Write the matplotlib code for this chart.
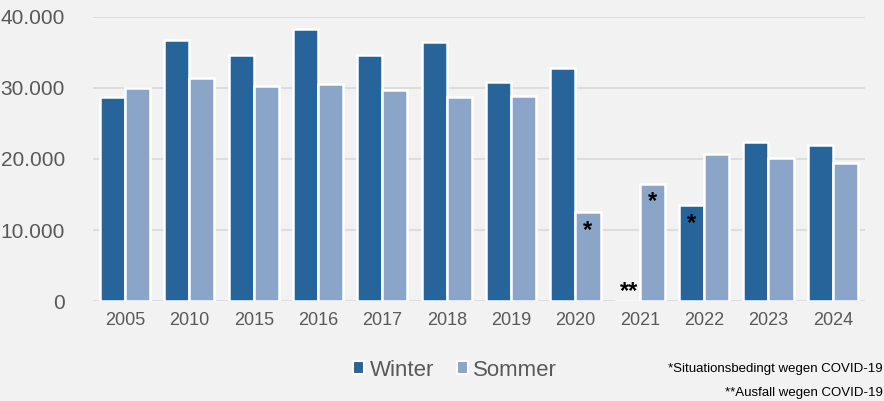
import matplotlib

matplotlib.use("Agg")
import matplotlib.pyplot as plt
import numpy as np
from matplotlib.patches import Patch
from matplotlib.ticker import FuncFormatter

years = ["2005", "2010", "2015", "2016", "2017", "2018", "2019", "2020", "2021", "2022", "2023", "2024"]
winter = [28700, 36800, 34600, 38300, 34600, 36500, 30800, 32800, 0, 13500, 22400, 22000]
sommer = [30000, 31400, 30300, 30600, 29700, 28700, 28900, 12500, 16500, 20700, 20100, 19400]

# (year index, series, label)
marks = [(7, "sommer", "*"), (8, "sommer", "*"), (8, "winter", "**"), (9, "winter", "*")]

notes = ["*Situationsbedingt wegen COVID-19", "**Ausfall wegen COVID-19"]

WINTER_C = "#266499"
SOMMER_C = "#8aa5c8"
BG = "#f2f2f2"
TXT = "#595959"

plt.rcParams["font.family"] = ["Liberation Sans", "DejaVu Sans"]

fig = plt.figure(figsize=(8.84, 4.01), dpi=100, facecolor=BG)
ax = fig.add_axes([0.105, 0.249, 0.8735, 0.709], facecolor=BG)

x = np.arange(len(years))
w = 0.39
ax.bar(x - w / 2, winter, w, color=WINTER_C, edgecolor="white", linewidth=1.8, zorder=3)
ax.bar(x + w / 2, sommer, w, color=SOMMER_C, edgecolor="white", linewidth=1.8, zorder=3)

for i, series, lab in marks:
    if series == "winter":
        xi, val = x[i] - w / 2, winter[i]
    else:
        xi, val = x[i] + w / 2, sommer[i]
    if val > 0:
        ax.text(xi, val - 900, lab, ha="center", va="top", fontsize=17,
                fontweight="bold", color="black", zorder=4)
    else:
        ax.text(xi + 0.03, -300, lab, ha="center", va="bottom", fontsize=17,
                fontweight="bold", color="black", zorder=4)

ax.set_xlim(-0.5, len(years) - 0.5)
ax.set_ylim(0, 40000)
ax.set_yticks(np.arange(0, 40001, 10000))
ax.yaxis.set_major_formatter(FuncFormatter(lambda v, p: f"{int(v):,}".replace(",", ".")))
ax.set_xticks(x)
ax.set_xticklabels(years)
ax.tick_params(axis="y", length=0, pad=20, labelsize=15, labelcolor=TXT)
ax.tick_params(axis="x", length=0, pad=8, labelsize=13, labelcolor=TXT)
ax.grid(axis="y", color="#d9d9d9", linewidth=1.2, zorder=0)
for s in ax.spines.values():
    s.set_visible(False)

handles = [
    Patch(facecolor=WINTER_C, edgecolor="white", linewidth=1.5, label="Winter"),
    Patch(facecolor=SOMMER_C, edgecolor="white", linewidth=1.5, label="Sommer"),
]
fig.legend(handles=handles, loc="center", bbox_to_anchor=(0.515, 0.077), ncol=2, frameon=False,
           fontsize=16, labelcolor=TXT, handlelength=0.5, handleheight=0.5,
           handletextpad=0.25, columnspacing=1.0)

fig.text(0.999, 0.08, notes[0], ha="right", va="center", fontsize=9.5, color="black")
fig.text(0.999, 0.02, notes[1], ha="right", va="center", fontsize=9.5, color="black")

fig.savefig("out.png", dpi=100, facecolor=BG)
